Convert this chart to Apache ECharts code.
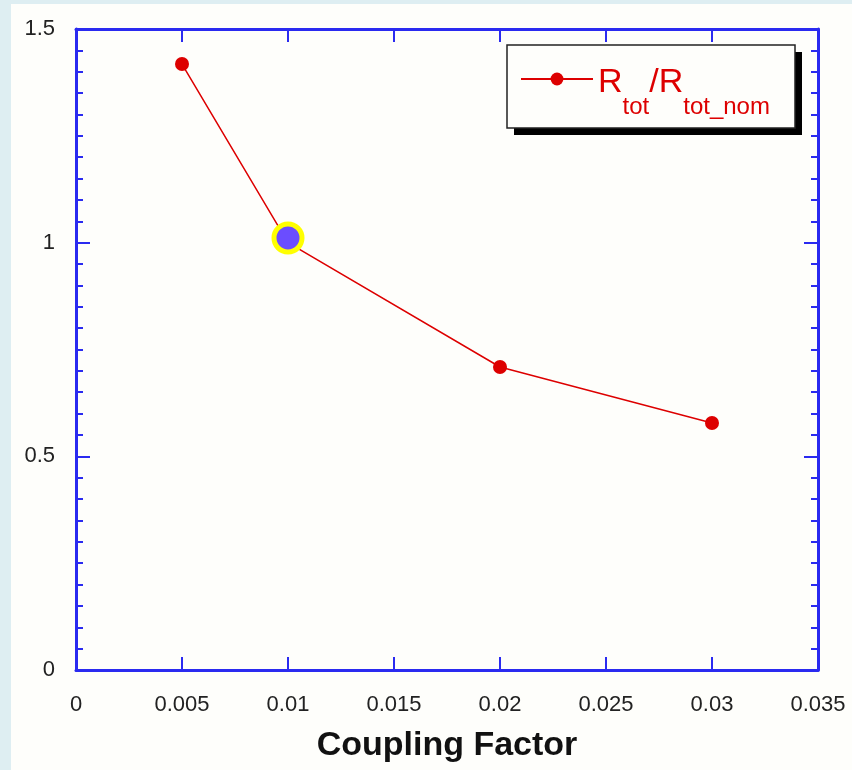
<!DOCTYPE html>
<html>
<head>
<meta charset="utf-8">
<script src="https://cdn.jsdelivr.net/npm/echarts@6/dist/echarts.min.js"></script>
<style>
html,body{margin:0;padding:0;background:#deeef2;}
#c{width:852px;height:770px;}
</style>
</head>
<body>
<div id="c"></div>
<script>
var couplingFactor = [0.005, 0.01, 0.02, 0.03];
var rRatio = [1.418, 1.0, 0.709, 0.578];
var highlightPoint = [[0.01, 1.011]];
var xTickLabels = ['0', '0.005', '0.01', '0.015', '0.02', '0.025', '0.03', '0.035'];
var yTickLabels = ['0', '0.5', '1', '1.5'];
var xTitle = 'Coupling Factor';

var blue = '#2a2af0';
var red = '#dd0000';
var chart = echarts.init(document.getElementById('c'), null, {renderer: 'canvas'});

function xLab(v) { return xTickLabels[Math.round(v / 0.005)]; }
function yLab(v) { return yTickLabels[Math.round(v / 0.5)]; }

var lineData = couplingFactor.map(function (x, i) { return [x, rRatio[i]]; });

function axisCommon(extra) {
  var o = {
    type: 'value',
    axisLine: {show: true, onZero: false, lineStyle: {color: blue, width: 3}},
    splitLine: {show: false}
  };
  for (var k in extra) o[k] = extra[k];
  return o;
}

var option = {
  animation: false,
  backgroundColor: 'transparent',
  graphic: [
    {type: 'rect', z: -10, shape: {x: 11, y: 4, width: 841, height: 766}, style: {fill: '#fefefb'}},
    {type: 'rect', z: 1, shape: {x: 514, y: 52, width: 288, height: 83}, style: {fill: '#000'}},
    {type: 'rect', z: 2, shape: {x: 507, y: 45, width: 288, height: 83}, style: {fill: '#fefefb', stroke: '#222', lineWidth: 1.5}}
  ],
  grid: {left: 76, top: 29, right: 34, bottom: 100, show: false, containLabel: false, outerBoundsMode: 'none'},
  legend: {
    left: 520, top: 66, z: 10,
    itemWidth: 72, itemHeight: 16, itemGap: 0,
    padding: 0,
    data: ['ratio'],
    formatter: function () { return '{R|R}{s|tot}{R|/R}{s|tot_nom}'; },
    textStyle: {
      color: red,
      padding: [8, 0, 0, 0],
      rich: {
        R: {fontSize: 34, fontFamily: 'Liberation Sans', color: red, lineHeight: 34, verticalAlign: 'middle'},
        s: {fontSize: 24, fontFamily: 'Liberation Sans', color: red, lineHeight: 73, verticalAlign: 'bottom'}
      }
    }
  },
  xAxis: [
    axisCommon({
      min: 0, max: 0.035, interval: 0.005, position: 'bottom',
      axisTick: {show: true, inside: true, length: 13, lineStyle: {color: blue, width: 2}},
      axisLabel: {formatter: xLab, margin: 24, fontSize: 22, fontFamily: 'Liberation Sans', color: '#222'},
      name: xTitle, nameLocation: 'middle', nameGap: 59,
      nameTextStyle: {fontSize: 34, fontWeight: 'bold', fontFamily: 'Liberation Sans', color: '#111'}
    }),
    axisCommon({
      min: 0, max: 0.035, interval: 0.005, position: 'top',
      axisTick: {show: true, inside: true, length: 13, lineStyle: {color: blue, width: 2}},
      axisLabel: {show: false}
    })
  ],
  yAxis: [
    axisCommon({
      min: 0, max: 1.5, interval: 0.5, position: 'left',
      axisTick: {show: true, inside: true, length: 14, lineStyle: {color: blue, width: 2}},
      minorTick: {show: true, splitNumber: 10, length: 7, lineStyle: {color: blue, width: 2}},
      axisLabel: {formatter: yLab, margin: 21, fontSize: 22, fontFamily: 'Liberation Sans', color: '#222'}
    }),
    axisCommon({
      min: 0, max: 1.5, interval: 0.5, position: 'right',
      axisTick: {show: true, inside: true, length: 14, lineStyle: {color: blue, width: 2}},
      minorTick: {show: true, splitNumber: 10, length: 7, lineStyle: {color: blue, width: 2}},
      axisLabel: {show: false}
    })
  ],
  series: [
    {
      name: 'ratio', type: 'line', xAxisIndex: 0, yAxisIndex: 0,
      data: lineData, symbol: 'circle', symbolSize: 14,
      lineStyle: {color: red, width: 1.5},
      itemStyle: {color: red},
      z: 3
    },
    {
      name: 'hl', type: 'scatter', xAxisIndex: 0, yAxisIndex: 0,
      data: highlightPoint, symbol: 'circle', symbolSize: 28,
      itemStyle: {color: '#6b4dff', borderColor: '#ffff00', borderWidth: 5, opacity: 1},
      z: 4
    }
  ]
};
chart.setOption(option);
</script>
</body>
</html>
